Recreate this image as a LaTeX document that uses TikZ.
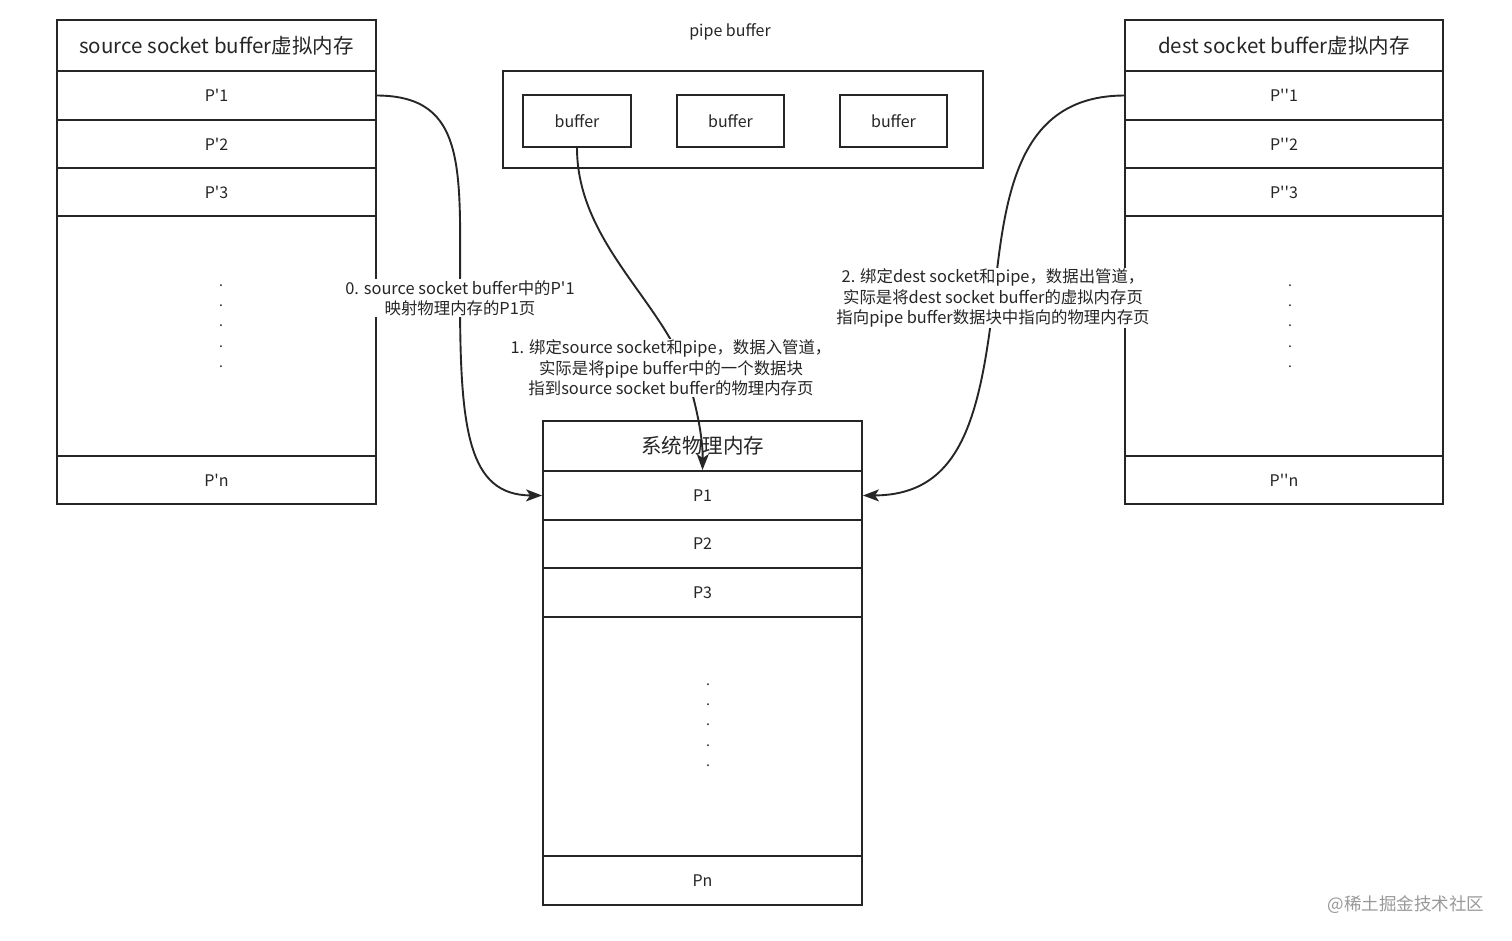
\documentclass[tikz,border=0pt]{standalone}
\usepackage{fontspec}
\setmainfont{Noto Sans CJK SC}
\usetikzlibrary{arrows.meta}
\begin{document}
\begin{tikzpicture}[x=1pt,y=-1pt,
  box/.style={draw=black!85,line width=1.9pt,inner sep=0pt,minimum width=319pt,font=\fontsize{16}{18}\selectfont,text=black!85},
  titlebox/.style={box,font=\fontsize{20.5}{22}\selectfont},
  bufbox/.style={draw=black!85,line width=1.9pt,inner sep=0pt,minimum width=108pt,minimum height=52pt,font=\fontsize{16}{18}\selectfont,text=black!85},
  dots/.style={align=center,font=\fontsize{14}{20.3}\selectfont,text=black!85,inner sep=0pt},
  lbl/.style={align=center,fill=white,inner sep=1pt,font=\fontsize{16.4}{20.3}\selectfont,text=black!85},
  conn/.style={draw=black!85,line width=1.9pt,-{Stealth[length=16pt,width=12pt,inset=4pt]}}
]
\useasboundingbox[fill=white] (0,0) rectangle (1512,941);

% left box
\node[titlebox,minimum height=51pt] (lt) at (216.5,45.5) {source socket buffer虚拟内存};
\node[box,minimum height=49pt] (lp1) at (216.5,95.5) {P\textquotesingle1};
\node[box,minimum height=48pt] (lp2) at (216.5,144) {P\textquotesingle2};
\node[box,minimum height=48pt] (lp3) at (216.5,192) {P\textquotesingle3};
\node[box,minimum height=240pt] (ld) at (216.5,336) {};
\node[box,minimum height=48pt] (lpn) at (216.5,480) {P\textquotesingle n};
\node[dots] (ldots) at (221,326) {.\\.\\.\\.\\.};

% right box
\node[titlebox,minimum height=51pt,minimum width=318pt] (rt) at (1284,45.5) {dest socket buffer虚拟内存};
\node[box,minimum height=49pt,minimum width=318pt] (rp1) at (1284,95.5) {P\textquotesingle\textquotesingle1};
\node[box,minimum height=48pt,minimum width=318pt] (rp2) at (1284,144) {P\textquotesingle\textquotesingle2};
\node[box,minimum height=48pt,minimum width=318pt] (rp3) at (1284,192) {P\textquotesingle\textquotesingle3};
\node[box,minimum height=240pt,minimum width=318pt] (rd) at (1284,336) {};
\node[box,minimum height=48pt,minimum width=318pt] (rpn) at (1284,480) {P\textquotesingle\textquotesingle n};
\node[dots] (rdots) at (1290,326) {.\\.\\.\\.\\.};

% pipe buffer
\node[font=\fontsize{16}{18}\selectfont,text=black!85] (pt) at (730,32) {pipe buffer};
\node[draw=black!85,line width=1.9pt,minimum width=480pt,minimum height=97pt,inner sep=0pt] (pipe) at (743,119.5) {};
\node[bufbox] (b1) at (577,121) {buffer};
\node[bufbox,minimum width=107pt] (b2) at (730.5,121) {buffer};
\node[bufbox,minimum width=107pt] (b3) at (893.5,121) {buffer};

% center box
\node[titlebox,minimum height=50pt] (ct) at (702.5,446) {系统物理内存};
\node[box,minimum height=49pt] (cp1) at (702.5,495.5) {P1};
\node[box,minimum height=48pt] (cp2) at (702.5,544) {P2};
\node[box,minimum height=49pt] (cp3) at (702.5,592.5) {P3};
\node[box,minimum height=239pt] (cd) at (702.5,736.5) {};
\node[box,minimum height=49pt] (cpn) at (702.5,880.5) {Pn};
\node[dots] (cdots) at (708,725) {.\\.\\.\\.\\.};

% connectors
\draw[conn] (lp1.east) .. controls (468,96) and (460,170) .. (460,296)
  .. controls (460,430) and (468,495) .. (cp1.west);
\draw[conn] (b1.south) .. controls (577,240) and (660,300) .. (685,370)
  .. controls (697,405) and (703,440) .. (cp1.north);
\draw[conn] (rp1.west) .. controls (1015,96) and (1005,200) .. (994,296)
  .. controls (980,420) and (960,495) .. (cp1.east);

% labels
\node[lbl] (l0) at (460,298) {0. source socket buffer中的P\textquotesingle1\\映射物理内存的P1页};
\node[lbl] (l1) at (671,368) {1. 绑定source socket和pipe，数据入管道，\\实际是将pipe buffer中的一个数据块\\指到source socket buffer的物理内存页};
\node[lbl] (l2) at (993,298) {2. 绑定dest socket和pipe，数据出管道，\\实际是将dest socket buffer的虚拟内存页\\指向pipe buffer数据块中指向的物理内存页};

\node[font=\fontsize{17.5}{20}\selectfont,text=black!40] (wm) at (1406,905) {@稀土掘金技术社区};
\end{tikzpicture}
\end{document}
